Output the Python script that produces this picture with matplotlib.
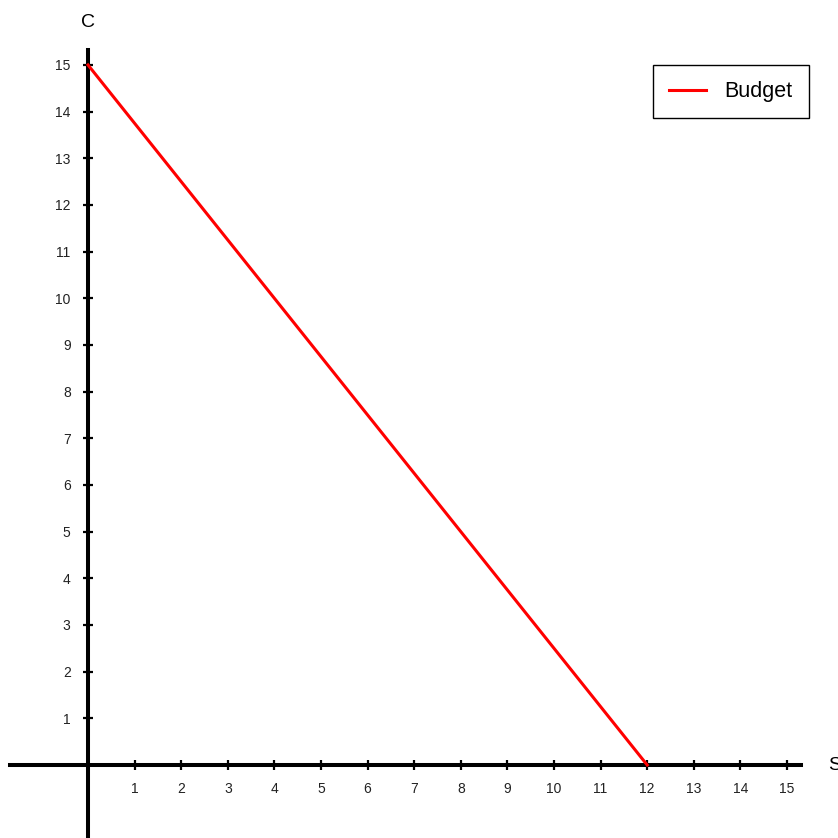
import numpy as np
import matplotlib.pyplot as plt

plt.rcParams['font.family'] = ['Liberation Sans', 'DejaVu Sans']

# budget line end points (S, C)
budget_s = [0, 12]
budget_c = [15, 0]
x_ticks = list(range(1, 16))
y_ticks = list(range(1, 16))

fig = plt.figure(figsize=(8.38, 8.38), dpi=100)
ax = fig.add_axes([0, 0, 1, 1])

px = 46.6  # pixels per unit
ax.set_xlim(-88 / px, (838 - 88) / px)
ax.set_ylim(-(838 - 765) / 46.67, 765 / 46.67)

ax.plot(budget_s, budget_c, color='red', lw=2.2, label='Budget', zorder=3)

for side in ['top', 'right']:
    ax.spines[side].set_visible(False)
ax.spines['left'].set_position(('data', 0))
ax.spines['bottom'].set_position(('data', 0))
ax.spines['left'].set_bounds(-1.6, 15.32)
ax.spines['bottom'].set_bounds((10 - 88) / px, (801 - 88) / px)
for side in ['left', 'bottom']:
    ax.spines[side].set_linewidth(2.9)
    ax.spines[side].set_zorder(2)

ax.set_xticks(x_ticks)
ax.set_yticks(y_ticks)
ax.tick_params(direction='inout', length=7, width=1.6, labelsize=10,
               colors='black', labelcolor='#222222')
ax.tick_params(axis='x', pad=9)
ax.tick_params(axis='y', pad=9)

ax.text(0, 15.92, 'C', fontsize=14, ha='center', va='center')
ax.text(15.88, 0, 'S', fontsize=14, ha='left', va='center')

leg = ax.legend(loc='upper right', bbox_to_anchor=(809 / 838, 1 - 65 / 838),
                bbox_transform=fig.transFigure, fancybox=False, framealpha=1,
                edgecolor='black', fontsize=15.5, handlelength=1.75,
                borderpad=0.75, handletextpad=0.85, borderaxespad=0)
leg.get_frame().set_linewidth(1.0)

fig.savefig('out.png', dpi=100)
